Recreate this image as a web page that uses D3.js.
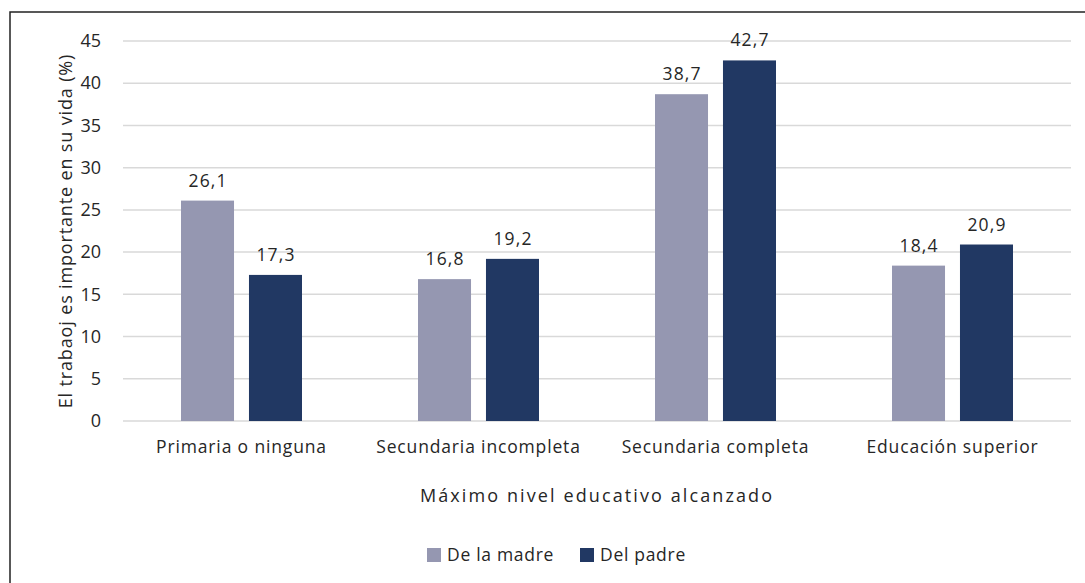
<!DOCTYPE html>
<html>
<head>
<meta charset="utf-8">
<script src="https://cdn.jsdelivr.net/npm/d3@7"></script>
<style>
  html, body { margin: 0; padding: 0; background: #fff; }
  svg { display: block; font-family: "Open Sans", "Liberation Sans", sans-serif; }
</style>
</head>
<body>
<svg id="chart" width="1085" height="583"></svg>
<script>
const categories = ["Primaria o ninguna", "Secundaria incompleta", "Secundaria completa", "Educación superior"];
const seriesNames = ["De la madre", "Del padre"];
const madre = [26.1, 16.8, 38.7, 18.4];
const padre = [17.3, 19.2, 42.7, 20.9];
const yTicks = [0, 5, 10, 15, 20, 25, 30, 35, 40, 45];
const colors = ["#9597b1", "#213863"];

const svg = d3.select("#chart");
const textColor = "#262626";
const font = "'Open Sans', sans-serif";

// outer frame
svg.append("rect")
  .attr("x", 10).attr("y", 12)
  .attr("width", 1100).attr("height", 600)
  .attr("fill", "none").attr("stroke", "#222").attr("stroke-width", 1.5);

const margin = { left: 123, right: 1071, top: 41, bottom: 421 };

const x0 = d3.scaleBand().domain(categories).range([margin.left, margin.right]);
const x1 = d3.scaleBand().domain(seriesNames).range([0, 121]).paddingInner(0.22);
const y = d3.scaleLinear().domain([0, 45]).range([margin.bottom, margin.top]);

// grid lines
svg.append("g")
  .selectAll("line")
  .data(yTicks)
  .join("line")
  .attr("x1", margin.left).attr("x2", margin.right)
  .attr("y1", d => y(d)).attr("y2", d => y(d))
  .attr("stroke", "#d9d9d9").attr("stroke-width", 1.5);

// y axis labels
const yAxis = d3.axisLeft(y).tickValues(yTicks).tickSize(0).tickPadding(0);
const yg = svg.append("g").attr("transform", `translate(${margin.left - 22},0)`).call(yAxis);
yg.select(".domain").remove();
yg.selectAll("text")
  .attr("font-size", 18).attr("fill", textColor)
  .attr("font-family", font);

// x axis labels
const xAxis = d3.axisBottom(x0).tickSize(0).tickPadding(0);
const xg = svg.append("g").attr("transform", `translate(0,${margin.bottom + 20})`).call(xAxis);
xg.select(".domain").remove();
xg.selectAll("text")
  .attr("font-size", 17.5).attr("fill", textColor)
  .attr("font-family", font)
  .attr("letter-spacing", 0.85);

// bars
const data = categories.map((c, i) => ({ cat: c, values: [madre[i], padre[i]] }));
const groups = svg.append("g")
  .selectAll("g")
  .data(data)
  .join("g")
  .attr("transform", d => `translate(${x0(d.cat) + x0.bandwidth() / 2 - 60.5},0)`);

groups.selectAll("rect")
  .data(d => d.values.map((v, j) => ({ name: seriesNames[j], v, j })))
  .join("rect")
  .attr("x", d => x1(d.name))
  .attr("width", x1.bandwidth())
  .attr("y", d => y(d.v))
  .attr("height", d => y(0) - y(d.v))
  .attr("fill", d => colors[d.j]);

groups.selectAll("text")
  .data(d => d.values.map((v, j) => ({ name: seriesNames[j], v, j })))
  .join("text")
  .attr("x", d => x1(d.name) + x1.bandwidth() / 2 + 0.6)
  .attr("y", d => y(d.v) - 14)
  .attr("text-anchor", "middle")
  .attr("font-size", 17.5)
  .attr("letter-spacing", 1.2)
  .attr("fill", textColor)
  .text(d => d3.format(".1f")(d.v).replace(".", ","));

// axis titles
svg.append("text")
  .attr("x", 597).attr("y", 502)
  .attr("text-anchor", "middle")
  .attr("font-size", 18).attr("fill", textColor)
  .attr("letter-spacing", 2.1)
  .text("Máximo nivel educativo alcanzado");

svg.append("text")
  .attr("transform", `translate(72,231) rotate(-90)`)
  .attr("text-anchor", "middle")
  .attr("font-size", 18).attr("fill", textColor)
  .attr("letter-spacing", 0.85)
  .text("El trabaoj es importante en su vida  (%)");

// legend
const legend = svg.append("g").attr("transform", "translate(427,548)");
const items = legend.selectAll("g")
  .data(seriesNames)
  .join("g")
  .attr("transform", (d, i) => `translate(${i * 153},0)`);
items.append("rect")
  .attr("width", 14).attr("height", 14)
  .attr("fill", (d, i) => colors[i]);
items.append("text")
  .attr("x", 20).attr("y", 13)
  .attr("font-family", font)
  .attr("font-size", 17.5).attr("fill", textColor)
  .attr("letter-spacing", 0.7)
  .text(d => d);
</script>
</body>
</html>
